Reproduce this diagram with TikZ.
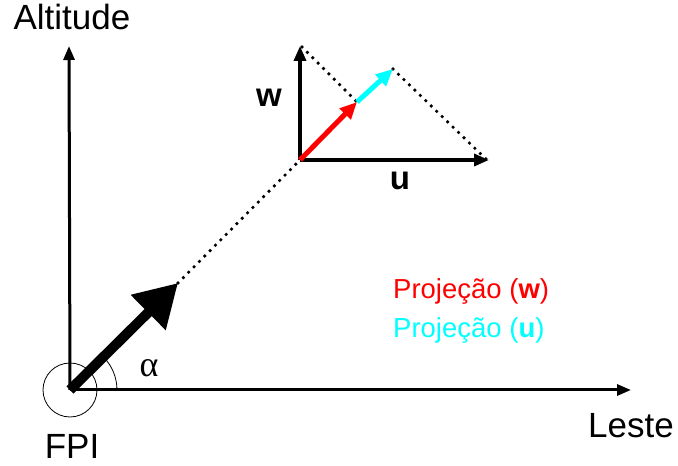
\documentclass[tikz,border=0pt]{standalone}
\usepackage{fontspec}
\setmainfont{Liberation Sans}
\newfontfamily\greekfont{Liberation Serif}
\usetikzlibrary{arrows.meta}
\definecolor{pured}{RGB}{255,0,0}
\definecolor{pucyan}{RGB}{0,255,255}
\begin{document}
\begin{tikzpicture}[x=1pt,y=1pt,
  axis/.style={line width=3pt,-{Triangle[length=14pt,width=11pt]}},
  laxis/.style={line width=3.5pt,-{Triangle[length=15pt,width=12pt]}},
  dots/.style={line width=3.6pt,line cap=round,dash pattern=on 0pt off 7.6pt},
  biglbl/.style={font=\fontsize{35}{38}\selectfont,inner sep=0pt},
  boldlbl/.style={font=\fontsize{33}{36}\selectfont\bfseries,inner sep=0pt},
  leg/.style={font=\fontsize{27.5}{30}\selectfont,inner sep=0pt,anchor=base west}]
\useasboundingbox (0,0) rectangle (678,466);
% points
\coordinate (O) at (70,76);
\coordinate (ytop) at (69,420);
\coordinate (xend) at (631,76);
\coordinate (V) at (178,183);
\coordinate (L) at (300,306);
\coordinate (Lw) at (300,420);
\coordinate (Lu) at (489,306);
\coordinate (R) at (357,364);
\coordinate (C) at (393,397);
\coordinate (Wd) at (302,419);
\coordinate (Ud) at (487,306);
% main axes
\draw[axis] (O) -- (ytop);
\draw[axis] (O) -- (xend);
% circle and angle arc
\draw[line width=0.8pt] (O) circle[radius=27];
\draw[line width=0.8pt] ([xshift=47pt]O) arc[start angle=0,end angle=45,radius=47];
% big arrow
\draw[line width=10pt,-{Triangle[length=42pt,width=47pt]}] (O) -- (V);
% dotted lines
\draw[dots] (V) -- (L);
\draw[dots] (Wd) -- (R);
\draw[dots] (C) -- (Ud);
% local axes
\draw[laxis] (L) -- (Lw);
\draw[laxis] (L) -- (Lu);
% projections
\draw[line width=5pt,pured,-{Triangle[length=17pt,width=15pt]}] (L) -- (R);
\draw[line width=5pt,pucyan,-{Triangle[length=17pt,width=15pt]}] (R) -- (C);
% labels
\node[biglbl,anchor=base] (alt) at (72,436) {Altitude};
\node[biglbl,anchor=base west] (leste) at (588,28) {Leste};
\node[biglbl,anchor=base] (fpi) at (72,7) {FPI};
\node[boldlbl,anchor=base] (wl) at (269,359) {w};
\node[boldlbl,anchor=base] (ul) at (400,276) {u};
\node[inner sep=0pt,font=\fontsize{36}{38}\selectfont\greekfont] (al) at (149,98) {α};
\node[leg,pured] (pw) at (393,167) {Projeção (\textbf{w})};
\node[leg,pucyan] (pu) at (393,128) {Projeção (\textbf{u})};
\end{tikzpicture}
\end{document}
